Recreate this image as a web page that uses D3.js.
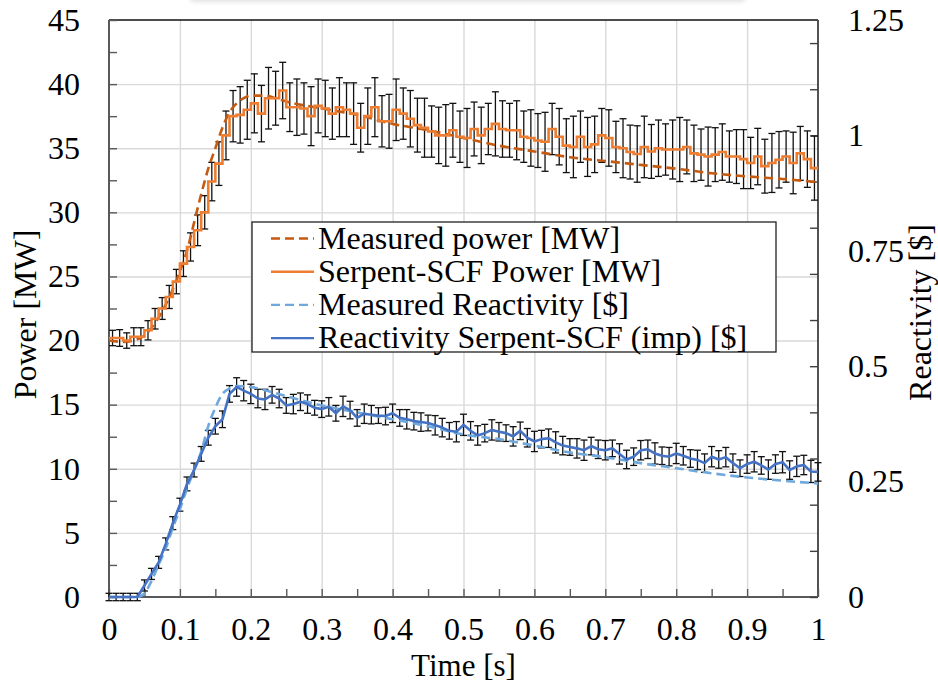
<!DOCTYPE html>
<html>
<head>
<meta charset="utf-8">
<script src="https://cdn.jsdelivr.net/npm/d3@7"></script>
<style>
  html, body { margin: 0; padding: 0; background: #fff; }
  svg { display: block; }
  text { font-family: "Liberation Serif", "Times New Roman", serif; fill: #000; }
</style>
</head>
<body>
<svg id="chart" width="938" height="683"></svg>
<script>
// Time grid [s] (0.01 s resolution)
const time = [0,0.01,0.02,0.03,0.04,0.05,0.06,0.07,0.08,0.09,
  0.1,0.11,0.12,0.13,0.14,0.15,0.16,0.17,0.18,0.19,
  0.2,0.21,0.22,0.23,0.24,0.25,0.26,0.27,0.28,0.29,
  0.3,0.31,0.32,0.33,0.34,0.35,0.36,0.37,0.38,0.39,
  0.4,0.41,0.42,0.43,0.44,0.45,0.46,0.47,0.48,0.49,
  0.5,0.51,0.52,0.53,0.54,0.55,0.56,0.57,0.58,0.59,
  0.6,0.61,0.62,0.63,0.64,0.65,0.66,0.67,0.68,0.69,
  0.7,0.71,0.72,0.73,0.74,0.75,0.76,0.77,0.78,0.79,
  0.8,0.81,0.82,0.83,0.84,0.85,0.86,0.87,0.88,0.89,
  0.9,0.91,0.92,0.93,0.94,0.95,0.96,0.97,0.98,0.99,1.0];

// Serpent-SCF power per 0.01 s time bin [MW] and its uncertainty
const serpentPower = [20.2,20.2,20.0,20.3,20.3,20.8,21.7,22.5,23.4,24.6,
  26.0,27.3,28.6,30.0,32.4,33.8,36.0,37.5,37.6,38.0,
  38.5,37.7,38.9,38.9,39.5,38.2,38.2,38.1,37.5,38.3,
  38.1,37.7,38.2,38.0,37.7,36.6,37.5,38.2,37.1,37.1,
  38.0,37.7,37.3,36.8,36.6,36.3,36.0,36.0,36.4,35.9,
  35.8,36.5,36.0,36.5,36.9,36.5,36.4,36.4,35.9,35.8,
  35.6,35.5,36.5,35.9,35.2,35.1,35.9,35.1,35.3,36.0,
  35.8,35.1,35.0,34.7,34.55,35.1,34.75,35.0,34.9,34.9,
  34.9,35.1,34.6,34.5,34.35,34.5,34.7,34.35,34.35,34.15,
  33.85,34.35,33.6,33.85,34.1,34.35,33.85,34.6,34.15,33.45];
const serpentPowerErr = [0.6,0.65,0.6,0.7,0.7,0.75,0.8,0.85,0.9,0.95,
  1.0,1.1,1.2,1.3,1.5,1.7,1.9,2.0,2.2,2.3,
  2.3,2.2,2.4,2.1,2.2,1.9,2.2,2.0,2.3,2.1,
  2.2,2.0,2.3,2.1,2.4,1.9,2.2,2.3,2.0,2.1,
  2.4,2.0,2.2,2.1,2.3,2.0,2.2,2.4,2.1,2.0,
  2.3,2.1,2.2,2.0,2.5,2.2,2.1,2.3,2.0,2.2,
  2.1,2.3,2.0,2.2,2.1,2.4,2.0,2.3,2.2,2.1,
  2.2,2.0,2.3,2.1,2.2,2.4,2.1,2.2,2.0,2.3,
  2.5,2.1,2.2,2.0,2.3,2.1,2.2,2.0,2.1,2.3,
  2.0,2.2,2.1,2.3,2.2,2.0,2.4,2.1,2.2,2.5];

// Measured power [MW]
const measPowerTime = [0,0.02,0.04,0.05,0.06,0.07,0.08,0.09,0.1,0.11,0.12,0.13,0.14,0.15,0.16,0.17,0.18,0.19,0.2,0.22,0.24,0.26,0.28,0.3,0.35,0.4,0.45,0.5,0.55,0.6,0.65,0.7,0.75,0.8,0.85,0.9,0.95,1.0];
const measPower = [20.0,19.9,20.1,20.4,21.0,21.8,22.8,24.0,25.4,27.0,29.2,31.4,33.4,35.0,36.6,37.8,38.5,38.9,39.1,39.1,38.8,38.5,38.3,38.1,37.6,36.9,36.4,35.8,35.2,34.75,34.3,34.0,33.7,33.4,33.05,32.8,32.6,32.35];

// Serpent-SCF reactivity (imp) [$] at each time point and its uncertainty
const serpentReact = [0,0,0,0,0,0.025,0.05,0.075,0.115,0.16,
  0.2,0.245,0.275,0.31,0.345,0.37,0.385,0.44,0.455,0.447,
  0.44,0.43,0.428,0.438,0.43,0.415,0.418,0.423,0.418,0.41,
  0.407,0.412,0.398,0.413,0.405,0.388,0.397,0.395,0.393,0.392,
  0.398,0.388,0.385,0.381,0.379,0.377,0.372,0.367,0.36,0.358,
  0.373,0.36,0.35,0.355,0.362,0.358,0.355,0.348,0.36,0.345,
  0.337,0.342,0.344,0.335,0.328,0.325,0.322,0.318,0.327,0.32,
  0.318,0.322,0.31,0.298,0.304,0.318,0.32,0.311,0.306,0.304,
  0.311,0.306,0.3,0.297,0.29,0.304,0.298,0.303,0.29,0.279,
  0.288,0.293,0.285,0.276,0.288,0.292,0.275,0.283,0.286,0.272,0.271];
const serpentReactErr = [0.008,0.008,0.008,0.008,0.008,0.012,0.012,0.013,0.013,0.014,
  0.014,0.015,0.015,0.016,0.016,0.017,0.018,0.018,0.02,0.022,
  0.021,0.02,0.022,0.018,0.02,0.017,0.021,0.019,0.02,0.016,
  0.018,0.02,0.017,0.022,0.019,0.018,0.021,0.02,0.017,0.019,
  0.02,0.018,0.021,0.019,0.02,0.017,0.021,0.02,0.018,0.022,
  0.023,0.02,0.021,0.019,0.022,0.02,0.018,0.021,0.019,0.02,
  0.022,0.019,0.02,0.023,0.02,0.018,0.021,0.022,0.019,0.02,
  0.021,0.018,0.022,0.02,0.019,0.021,0.02,0.023,0.019,0.02,
  0.022,0.02,0.019,0.021,0.02,0.022,0.019,0.021,0.02,0.018,
  0.02,0.022,0.019,0.021,0.02,0.023,0.02,0.022,0.021,0.024,0.02];

// Measured reactivity [$]
const measReactTime = [0,0.04,0.05,0.06,0.07,0.08,0.09,0.1,0.11,0.12,0.13,0.14,0.15,0.16,0.17,0.18,0.2,0.22,0.25,0.3,0.35,0.4,0.45,0.5,0.55,0.6,0.65,0.7,0.75,0.8,0.85,0.9,0.95,1.0];
const measReact = [0,0,0.008,0.035,0.07,0.105,0.15,0.19,0.235,0.275,0.315,0.37,0.41,0.44,0.452,0.457,0.455,0.448,0.435,0.415,0.4,0.385,0.37,0.352,0.342,0.328,0.313,0.303,0.29,0.279,0.268,0.259,0.252,0.246];

// Axis ticks and labels
const timeTicks = [0,0.05,0.1,0.15,0.2,0.25,0.3,0.35,0.4,0.45,0.5,0.55,0.6,0.65,0.7,0.75,0.8,0.85,0.9,0.95,1];
const timeLabels = [0,0.1,0.2,0.3,0.4,0.5,0.6,0.7,0.8,0.9,1];
const powerTicks = [0,2.5,5,7.5,10,12.5,15,17.5,20,22.5,25,27.5,30,32.5,35,37.5,40,42.5,45];
const powerLabels = [0,5,10,15,20,25,30,35,40,45];
const reactTicks = [0,0.1,0.2,0.3,0.4,0.5,0.6,0.7,0.8,0.9,1.0,1.1,1.2];
const reactLabels = [0,0.25,0.5,0.75,1,1.25];

const legendItems = [
  { label: "Measured power [MW]", color: "#C55A11", dash: "9,5" },
  { label: "Serpent-SCF Power [MW]", color: "#ED7D31", dash: null },
  { label: "Measured Reactivity [$]", color: "#6FA8DC", dash: "9,5" },
  { label: "Reactivity Serpent-SCF (imp) [$]", color: "#4472C4", dash: null }
];

const svg = d3.select("#chart");
const plot = { left: 109, right: 818, top: 20, bottom: 597 };

const x = d3.scaleLinear().domain([0, 1]).range([plot.left, plot.right]);
const yP = d3.scaleLinear().domain([0, 45]).range([plot.bottom, plot.top]);
const yR = d3.scaleLinear().domain([0, 1.25]).range([plot.bottom, plot.top]);

// faint shadow strip at the very top of the canvas
const defs = svg.append("defs");
defs.append("filter").attr("id", "soft").attr("x", "-10%").attr("y", "-200%").attr("width", "120%").attr("height", "500%")
  .append("feGaussianBlur").attr("stdDeviation", 2);
svg.append("rect").attr("x", 190).attr("y", -8).attr("width", 555).attr("height", 10)
  .attr("rx", 4).attr("fill", "#e2e2e2").attr("filter", "url(#soft)");

// gridlines
svg.append("g").attr("transform", `translate(0,${plot.bottom})`)
  .call(d3.axisBottom(x).tickValues(timeLabels.filter(d => d > 0 && d < 1))
    .tickSize(-(plot.bottom - plot.top)).tickFormat(""))
  .call(g => g.select(".domain").remove())
  .call(g => g.selectAll("line").attr("stroke", "#d9d9d9").attr("stroke-width", 1.4));
svg.append("g").attr("transform", `translate(${plot.left},0)`)
  .call(d3.axisLeft(yP).tickValues(powerLabels.filter(d => d > 0 && d < 45))
    .tickSize(-(plot.right - plot.left)).tickFormat(""))
  .call(g => g.select(".domain").remove())
  .call(g => g.selectAll("line").attr("stroke", "#d9d9d9").attr("stroke-width", 1.4));

// frame
svg.append("line").attr("x1", plot.left).attr("x2", plot.right).attr("y1", plot.top).attr("y2", plot.top)
  .attr("stroke", "#111").attr("stroke-width", 1.4);
svg.append("line").attr("x1", plot.right).attr("x2", plot.right).attr("y1", plot.top).attr("y2", plot.bottom)
  .attr("stroke", "#404040").attr("stroke-width", 1.8);
svg.append("line").attr("x1", plot.left).attr("x2", plot.left).attr("y1", plot.top).attr("y2", plot.bottom)
  .attr("stroke", "#595959").attr("stroke-width", 2);
svg.append("line").attr("x1", plot.left).attr("x2", plot.right).attr("y1", plot.bottom).attr("y2", plot.bottom)
  .attr("stroke", "#595959").attr("stroke-width", 2);

// inward tick marks
function styleTicks(g, color) {
  g.select(".domain").remove();
  g.selectAll("line").attr("stroke", color).attr("stroke-width", 1.4);
}
svg.append("g").attr("transform", `translate(${plot.left},0)`)
  .call(d3.axisLeft(yP).tickValues(powerTicks).tickSize(-8).tickFormat(""))
  .call(g => styleTicks(g, "#595959"));
svg.append("g").attr("transform", `translate(${plot.right},0)`)
  .call(d3.axisRight(yR).tickValues(reactTicks).tickSize(-8).tickFormat(""))
  .call(g => styleTicks(g, "#404040"));
svg.append("g").attr("transform", `translate(0,${plot.bottom})`)
  .call(d3.axisBottom(x).tickValues(timeTicks).tickSize(-8).tickFormat(""))
  .call(g => styleTicks(g, "#595959"));

// tick labels
function styleLabels(g) {
  g.select(".domain").remove();
  g.selectAll("line").remove();
  g.selectAll("text").style("font-size", "32px").attr("fill", "#000")
    .style("font-family", '"Liberation Serif", "Times New Roman", serif');
}
svg.append("g").attr("transform", `translate(${plot.left},0)`)
  .call(d3.axisLeft(yP).tickValues(powerLabels).tickSize(0).tickPadding(29).tickFormat(d3.format("d")))
  .call(styleLabels);
svg.append("g").attr("transform", `translate(${plot.right},0)`)
  .call(d3.axisRight(yR).tickValues(reactLabels).tickSize(0).tickPadding(30).tickFormat(d => String(d)))
  .call(styleLabels);
svg.append("g").attr("transform", `translate(0,${plot.bottom})`)
  .call(d3.axisBottom(x).tickValues(timeLabels).tickSize(0).tickPadding(20).tickFormat(d => String(d)))
  .call(styleLabels);

// axis titles
svg.append("text").attr("transform", `translate(36,${(plot.top + plot.bottom) / 2 + 6}) rotate(-90)`)
  .attr("text-anchor", "middle").style("font-size", "32px").text("Power [MW]");
svg.append("text").attr("transform", `translate(931,${(plot.top + plot.bottom) / 2 + 4}) rotate(-90)`)
  .attr("text-anchor", "middle").style("font-size", "32px").text("Reactivity [$]");
svg.append("text").attr("x", (plot.left + plot.right) / 2).attr("y", 676)
  .attr("text-anchor", "middle").style("font-size", "31px").text("Time [s]");

// error bars
function errorBars(points, yScale, color) {
  const g = svg.append("g").attr("stroke", color).attr("stroke-width", 1.3).attr("fill", "none");
  const cap = 3.5;
  points.forEach(p => {
    const cx = x(p.t), y1 = yScale(p.v - p.e), y2 = yScale(p.v + p.e);
    g.append("line").attr("x1", cx).attr("x2", cx).attr("y1", y1).attr("y2", y2);
    g.append("line").attr("x1", cx - cap).attr("x2", cx + cap).attr("y1", y1).attr("y2", y1);
    g.append("line").attr("x1", cx - cap).attr("x2", cx + cap).attr("y1", y2).attr("y2", y2);
  });
}

// power: bins with error bars at bin centres
const powerBins = serpentPower.map((v, i) => ({ t0: time[i], t1: time[i + 1], v, e: serpentPowerErr[i] }));
errorBars(powerBins.map(b => ({ t: (b.t0 + b.t1) / 2, v: b.v, e: b.e })), yP, "#111");

const reactPts = serpentReact.map((v, i) => ({ t: time[i], v, e: serpentReactErr[i] }));
errorBars(reactPts, yR, "#111");

// lines
const stepLine = d3.line().x(d => x(d.t)).y(d => yP(d.v)).curve(d3.curveStepAfter);
const powerStepData = powerBins.map(b => ({ t: b.t0, v: b.v }))
  .concat([{ t: powerBins[powerBins.length - 1].t1, v: powerBins[powerBins.length - 1].v }]);

svg.append("path").datum(measPowerTime.map((t, i) => ({ t, v: measPower[i] })))
  .attr("d", d3.line().x(d => x(d.t)).y(d => yP(d.v)).curve(d3.curveMonotoneX))
  .attr("fill", "none").attr("stroke", legendItems[0].color).attr("stroke-width", 2.6)
  .attr("stroke-dasharray", legendItems[0].dash);
svg.append("path").datum(powerStepData).attr("d", stepLine)
  .attr("fill", "none").attr("stroke", legendItems[1].color).attr("stroke-width", 2.6);

svg.append("path").datum(measReactTime.map((t, i) => ({ t, v: measReact[i] })))
  .attr("d", d3.line().x(d => x(d.t)).y(d => yR(d.v)).curve(d3.curveMonotoneX))
  .attr("fill", "none").attr("stroke", legendItems[2].color).attr("stroke-width", 2.6)
  .attr("stroke-dasharray", legendItems[2].dash);
svg.append("path").datum(reactPts)
  .attr("d", d3.line().x(d => x(d.t)).y(d => yR(d.v)))
  .attr("fill", "none").attr("stroke", legendItems[3].color).attr("stroke-width", 2.6)
  .attr("stroke-linejoin", "round");

// legend
const lg = svg.append("g").attr("transform", "translate(252,222)");
lg.append("rect").attr("width", 524).attr("height", 130).attr("fill", "#fff")
  .attr("stroke", "#222").attr("stroke-width", 1.3);
legendItems.forEach((d, i) => {
  const by = 26.5 + i * 33.2;
  lg.append("line").attr("x1", 19).attr("x2", 62).attr("y1", by - 10).attr("y2", by - 10)
    .attr("stroke", d.color).attr("stroke-width", 2.4).attr("stroke-dasharray", d.dash);
  lg.append("text").attr("x", 66).attr("y", by).style("font-size", "32px").text(d.label);
});
</script>
</body>
</html>
